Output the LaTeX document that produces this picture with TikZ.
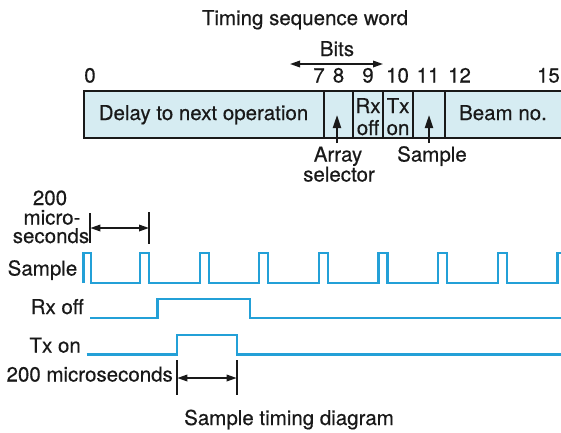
\documentclass[tikz,border=0pt]{standalone}
\usepackage{fontspec}
\setmainfont{TeX Gyre Heros}[FakeBold=0.4]
\usetikzlibrary{arrows.meta}
\definecolor{sig}{RGB}{35,160,215}
\definecolor{cellfill}{RGB}{214,236,242}
\definecolor{ink}{RGB}{25,25,25}
\begin{document}
\begin{tikzpicture}[x=1pt,y=-1pt,
  lbl/.style={font=\fontsize{20.5}{19}\selectfont, inner sep=0pt, text=ink},
  wave/.style={draw=sig, line width=2.2pt, line join=miter},
  dimarrow/.style={{Triangle[length=10pt,width=6.5pt]}-{Triangle[length=10pt,width=6.5pt]}, line width=1.7pt, draw=ink},
  tickline/.style={line width=1.7pt, draw=ink},
  uparrow/.style={-{Triangle[length=13pt,width=8pt]}, line width=2pt, draw=ink},
  cellline/.style={line width=1.4pt, draw=ink},
]
\useasboundingbox (0,0) rectangle (561,432);
\begin{scope}
\clip (0,0) rectangle (561,432);
% word box
\fill[cellfill] (84,91) rectangle (600,138);
\draw[cellline] (600,91) -- (84,91) -- (84,138) -- (600,138);
\foreach \x in {324,353,383,413,445} \draw[cellline] (\x,91) -- (\x,138);

% titles
\node[lbl, anchor=base] (title) at (305,25) {Timing sequence word};
\node[lbl, anchor=base] (bits) at (337,56) {Bits};
\coordinate (bitsL) at (290,64);
\coordinate (bitsR) at (383,64);
\draw[dimarrow] (bitsL) -- (bitsR);

% bit numbers
\node[lbl, anchor=base] (b0) at (90,82.5) {0};
\node[lbl, anchor=base] (b7) at (319,82.5) {7};
\node[lbl, anchor=base] (b8) at (338.5,82.5) {8};
\node[lbl, anchor=base] (b9) at (368,82.5) {9};
\node[lbl, anchor=base] (b10) at (397.5,82.5) {10};
\node[lbl, anchor=base] (b11) at (428,82.5) {11};
\node[lbl, anchor=base] (b12) at (459.5,82.5) {12};
\node[lbl, anchor=base east] (b15) at (560,82.5) {15};

% cell texts
\node[lbl, anchor=base] (delay) at (203.5,120) {Delay to next operation};
\node[lbl, anchor=base] (beam) at (503,120) {Beam no.};
\node[lbl, anchor=base] (rx1) at (368,113) {Rx};
\node[lbl, anchor=base] (rx2) at (368,135) {off};
\node[lbl, anchor=base] (tx1) at (398,113) {Tx};
\node[lbl, anchor=base] (tx2) at (398,135) {on};

% pointers
\node[lbl, anchor=base] (array) at (338,161.5) {Array};
\node[lbl, anchor=base] (selector) at (339,181.5) {selector};
\node[lbl, anchor=base] (samplebit) at (432,161.5) {Sample};
\coordinate (arrS) at (337,143);
\coordinate (arrT) at (337,115);
\coordinate (smpS) at (429,143);
\coordinate (smpT) at (429,115);
\draw[uparrow] (arrS) -- (arrT);
\draw[uparrow] (smpS) -- (smpT);

% timing labels
\node[lbl, anchor=base] (l200) at (50,205) {200};
\node[lbl, anchor=base] (lmicro) at (52,224.5) {micro-};
\node[lbl, anchor=base] (lsec) at (51,243) {seconds};
\node[lbl, anchor=base east] (lsample) at (77.5,275.5) {Sample};
\node[lbl, anchor=base east] (lrx) at (84,314) {Rx off};
\node[lbl, anchor=base east] (ltx) at (81,352.5) {Tx on};
\node[lbl, anchor=base east] (lbot) at (173,381.5) {200 microseconds};
\node[lbl, anchor=base] (caption) at (289,425) {Sample timing diagram};

% top dimension
\coordinate (ta1) at (90.3,213); \coordinate (ta2) at (90.3,243);
\coordinate (tb1) at (149,212); \coordinate (tb2) at (149,244);
\coordinate (ta) at (90.3,228); \coordinate (tb) at (149,228);
\draw[tickline] (ta1) -- (ta2);
\draw[tickline] (tb1) -- (tb2);
\draw[dimarrow] (ta) -- (tb);

% bottom dimension
\coordinate (ba1) at (177.3,360); \coordinate (ba2) at (177.3,395);
\coordinate (bb1) at (236.7,360); \coordinate (bb2) at (236.7,395);
\coordinate (ba) at (177.3,378); \coordinate (bb) at (236.7,378);
\draw[tickline] (ba1) -- (ba2);
\draw[tickline] (bb1) -- (bb2);
\draw[dimarrow] (ba) -- (bb);

% Sample wave
\draw[wave] (83.5,283) -- (83.5,253) -- (91,253) -- (91,283)
  \foreach \k in {0,...,7} { -- ({140+59.64*\k},283) -- ({140+59.64*\k},253) -- ({149+59.64*\k},253) -- ({149+59.64*\k},283) }
  -- (600,283);
% Rx off wave
\draw[wave] (90,318) -- (157.5,318) -- (157.5,299) -- (250,299) -- (250,318) -- (600,318);
% Tx on wave
\draw[wave] (86.7,354.5) -- (176.7,354.5) -- (176.7,335) -- (237.3,335) -- (237.3,354.5) -- (600,354.5);
\end{scope}
\end{tikzpicture}
\end{document}
